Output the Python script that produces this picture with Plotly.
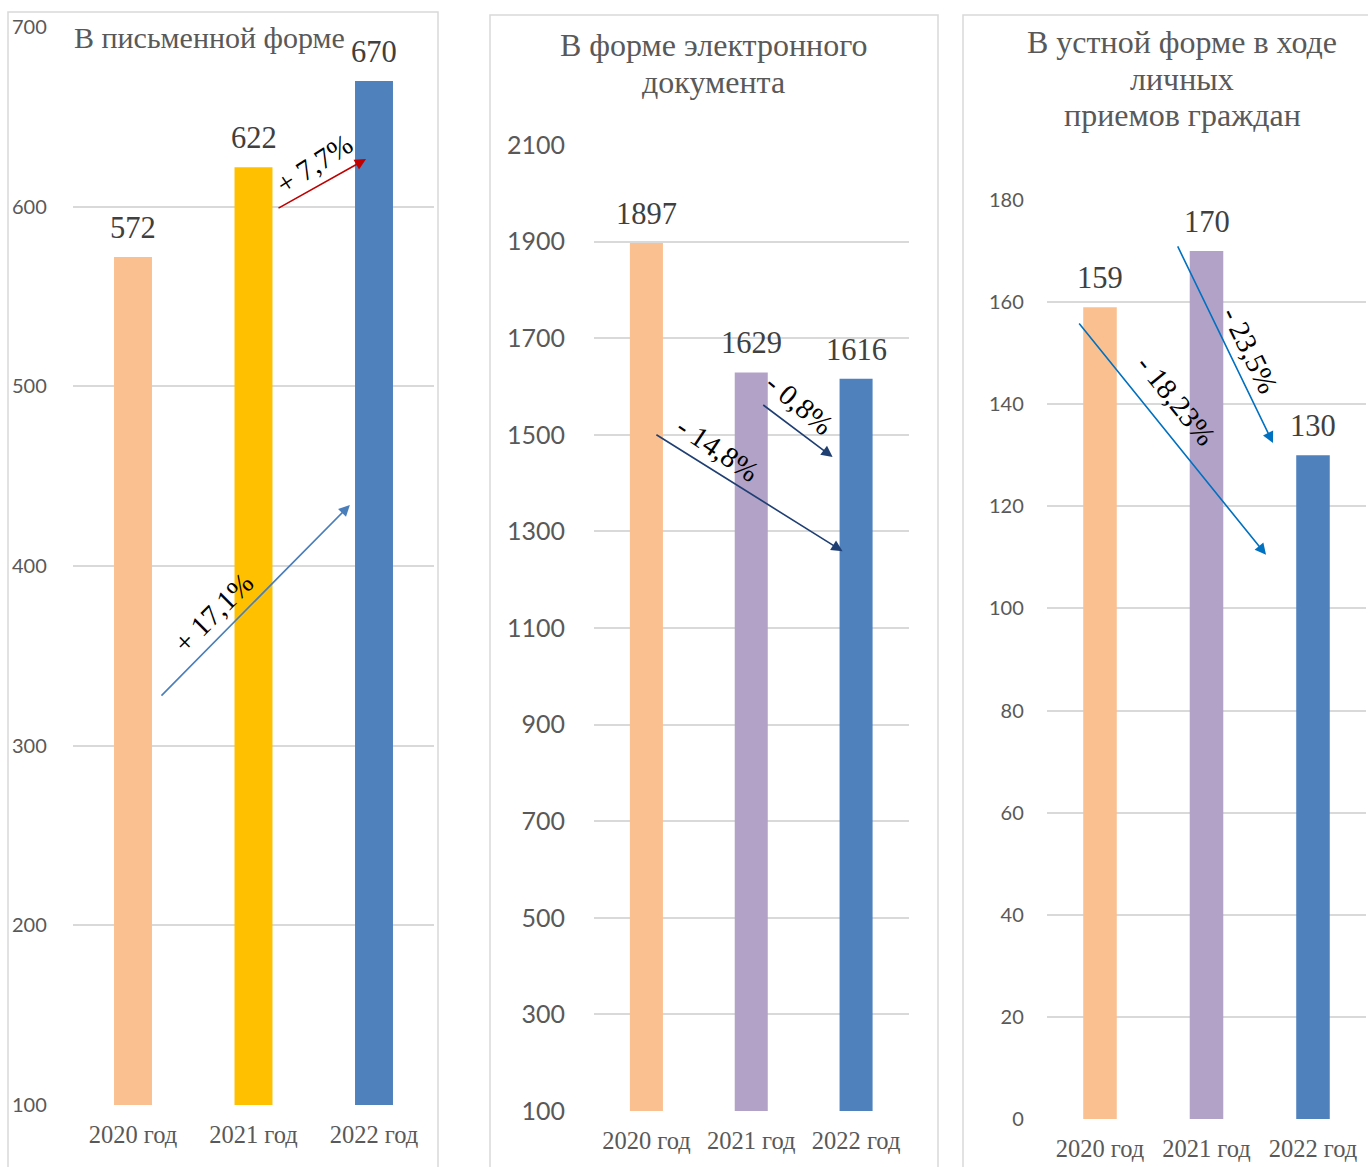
import plotly.graph_objects as go

W, H = 1368, 1167

categories = ["2020 год", "2021 год", "2022 год"]
written_values = [572, 622, 670]
electronic_values = [1897, 1629, 1616]
oral_values = [159, 170, 130]

title_lines = [["В письменной форме"],
               ["В форме электронного", "документа"],
               ["В устной форме в ходе", "личных", "приемов граждан"]]

colors_written = ["#FAC090", "#FFC000", "#4F81BD"]
colors_other = ["#FAC090", "#B3A2C7", "#4F81BD"]

y_ranges = [[100, 700], [100, 2100], [0, 180]]
y_dticks = [100, 200, 20]
y_tick0 = [100, 100, 0]

# pixel layout of panels
x_dom_px = [(72.75, 434.25), (594, 908.5), (1046.75, 1366.25)]
y_dom_px = [(27, 1105), (145, 1111), (200, 1119)]
tick_sizes = [20, 25, 20]
tick_standoff = [25, 28, 22]
borders_px = [(8, 12, 438, 1168), (490, 15, 938, 1168), (963, 15, 1372, 1168)]
title_pos = [[(72, 37, "left")],
             [(713, 45, "center"), (713, 82, "center")],
             [(1182, 42, "center"), (1182, 79, "center"), (1182, 115, "center")]]
title_sizes = [30, 32, 32]

# percent-change arrows: (panel, x_from, y_from, x_to, y_to, colour)
arrows = [
    (0, 0.224, 327, 1.80, 434, "#4A7EBB"),
    (0, 1.195, 598.7, 1.934, 626.5, "#C00000"),
    (1, 0.081, 1502, 1.871, 1259, "#1F3F73"),
    (1, 1.10, 1564, 1.776, 1454, "#1F3F73"),
    (2, -0.207, 156.1, 1.559, 110.5, "#0070C0"),
    (2, 0.723, 171.2, 1.624, 132.4, "#0070C0"),
]
# percent labels: (panel, text, x, y, angle)
pct_labels = [
    (0, "+ 17,1%", 0.664, 374, -45),
    (0, "+ 7,7%", 1.502, 624, -33),
    (1, "- 14,8%", 0.681, 1471, 34),
    (1, "- 0,8%", 1.462, 1564, 40),
    (2, "- 18,23%", 0.714, 140.8, 51),
    (2, "- 23,5%", 1.408, 150.6, 64),
]

GRAY = "#595959"
GRID = "#D9D9D9"
SERIF = "Liberation Serif"
SANS = "Lato"

fig = go.Figure()
series = [written_values, electronic_values, oral_values]
for i, vals in enumerate(series):
    xa = "x" if i == 0 else f"x{i+1}"
    ya = "y" if i == 0 else f"y{i+1}"
    fig.add_trace(go.Bar(
        x=categories, y=vals, xaxis=xa, yaxis=ya,
        marker=dict(color=colors_written if i == 0 else colors_other, line_width=0),
        width=0.315, showlegend=False, hoverinfo="skip",
    ))

layout = dict(width=W, height=H, margin=dict(l=0, r=0, t=0, b=0, autoexpand=False),
              paper_bgcolor="white", plot_bgcolor="white", autosize=False)
annotations = []
shapes = []
for i in range(3):
    sx = "" if i == 0 else str(i + 1)
    x0, x1 = x_dom_px[i]
    yt, yb = y_dom_px[i]
    layout[f"xaxis{sx}"] = dict(
        domain=[x0 / W, x1 / W], anchor=f"y{sx}", type="category", automargin=False,
        range=[-0.5, 2.5], showgrid=False, showline=False, zeroline=False, ticks="",
        tickfont=dict(family=SERIF, size=24.5, color=GRAY), ticklabelstandoff=12,
    )
    layout[f"yaxis{sx}"] = dict(
        domain=[1 - yb / H, 1 - yt / H], anchor=f"x{sx}", automargin=False,
        range=y_ranges[i], dtick=y_dticks[i], tick0=y_tick0[i], showgrid=True,
        gridcolor=GRID, gridwidth=1.5, zeroline=False, showline=False, ticks="",
        tickfont=dict(family=SANS, size=tick_sizes[i], color=GRAY),
        ticklabelstandoff=tick_standoff[i],
    )
    bx0, by0, bx1, by1 = borders_px[i]
    shapes.append(dict(type="rect", xref="paper", yref="paper",
                       x0=bx0 / W, x1=bx1 / W, y0=1 - by1 / H, y1=1 - by0 / H,
                       line=dict(color=GRID, width=1.5), fillcolor="rgba(0,0,0,0)", layer="below"))
    for c, v in zip(categories, series[i]):
        annotations.append(dict(x=c, y=v, xref=f"x{sx}", yref=f"y{sx}", text=str(v),
                                showarrow=False, yanchor="bottom", yshift=10,
                                font=dict(family=SERIF, size=30.5, color="#404040")))
    for line, (px, py, anc) in zip(title_lines[i], title_pos[i]):
        annotations.append(dict(x=px / W, y=1 - py / H, xref="paper", yref="paper", text=line,
                                showarrow=False, xanchor=anc, yanchor="middle",
                                font=dict(family=SERIF, size=title_sizes[i], color=GRAY)))

for p, xf, yf, xt, ytt, col in arrows:
    sx = "" if p == 0 else str(p + 1)
    annotations.append(dict(x=xt, y=ytt, ax=xf, ay=yf, xref=f"x{sx}", yref=f"y{sx}",
                            axref=f"x{sx}", ayref=f"y{sx}", text="", showarrow=True,
                            arrowhead=2, arrowsize=1.4, arrowwidth=1.6, arrowcolor=col))
for p, t, xx, yy, ang in pct_labels:
    sx = "" if p == 0 else str(p + 1)
    annotations.append(dict(x=xx, y=yy, xref=f"x{sx}", yref=f"y{sx}", text=t,
                            showarrow=False, textangle=ang,
                            font=dict(family=SERIF, size=29, color="black")))

layout["annotations"] = annotations
layout["shapes"] = shapes
fig.update_layout(**layout)

fig.write_html("out.html", config={"displayModeBar": False},
               post_script="document.body.style.margin='0';document.body.style.overflow='hidden';")
